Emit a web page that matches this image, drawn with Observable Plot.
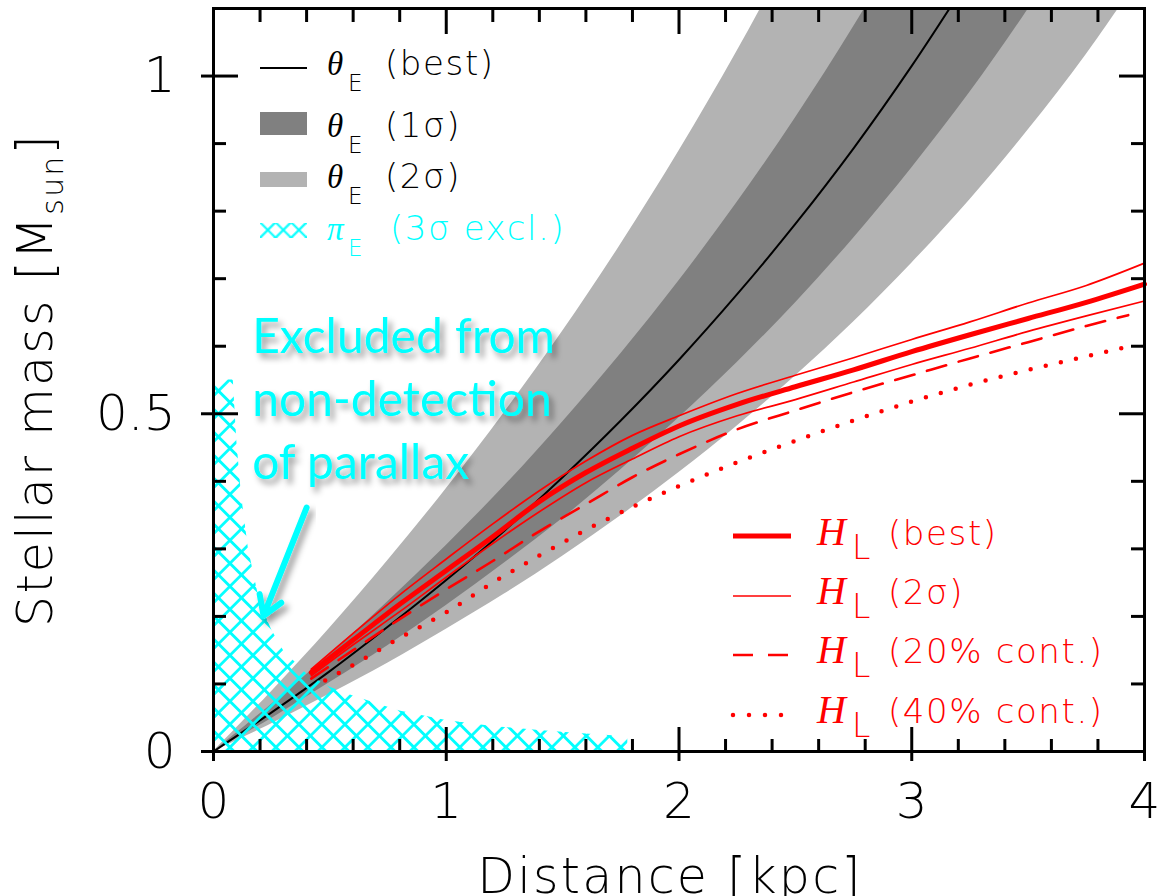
<!DOCTYPE html>
<html><head><meta charset="utf-8">
<script src="https://cdn.jsdelivr.net/npm/d3@7"></script>
<script src="https://cdn.jsdelivr.net/npm/@observablehq/plot@0.6"></script>
<style>body{margin:0;background:#fff} #chart svg{display:block}</style>
</head><body><div id="chart"></div>
<script>
// ---- data ----
const distGrid  = [0,0.25,0.5,0.75,1,1.25,1.5,1.75,2,2.25,2.5,2.75,3,3.25,3.5,3.75,4];
const theta2Hi  = [0,0.089,0.183,0.283,0.389,0.502,0.622,0.751,0.889,1.037,1.197,1.369,1.556,1.759,1.980,2.222,2.489];
const theta1Hi  = [0,0.070,0.144,0.222,0.305,0.393,0.488,0.589,0.697,0.813,0.938,1.073,1.220,1.379,1.552,1.742,1.951];
const theta1Lo  = [0,0.049,0.102,0.157,0.216,0.279,0.345,0.417,0.494,0.576,0.664,0.760,0.864,0.976,1.099,1.234,1.382];
const theta2Lo  = [0,0.041,0.085,0.131,0.181,0.233,0.289,0.349,0.413,0.482,0.556,0.636,0.723,0.817,0.920,1.032,1.156];
const bestD     = [0,0.25,0.5,0.75,1,1.25,1.5,1.75,2,2.25,2.5,2.75,3,3.25];
const thetaBest = [0,0.058,0.119,0.185,0.254,0.327,0.406,0.490,0.580,0.677,0.781,0.893,1.015,1.147];

const piD   = [0,0.085,0.1,0.12,0.15,0.2,0.25,0.3,0.4,0.5,0.6,0.7,0.8,1.0,1.2,1.4,1.6,1.78];
const piExM = [0.55,0.55,0.46,0.38,0.30,0.22,0.18,0.15,0.115,0.095,0.082,0.071,0.060,0.046,0.037,0.031,0.026,0.022];

const hlD    = [0.42,0.6,0.8,1.0,1.2,1.4,1.6,1.8,2.0,2.25,2.5,2.75,3.0,3.25,3.5,3.75,4.0];
const hlBest = [0.117,0.165,0.218,0.268,0.318,0.370,0.413,0.449,0.482,0.514,0.540,0.565,0.592,0.617,0.641,0.665,0.692];
const hlHi   = [0.122,0.175,0.232,0.285,0.337,0.386,0.430,0.468,0.497,0.530,0.557,0.583,0.610,0.636,0.664,0.690,0.723];
const hlLo   = [0.112,0.158,0.207,0.258,0.308,0.355,0.398,0.433,0.466,0.497,0.521,0.547,0.573,0.597,0.622,0.645,0.667];
const hl20D  = [0.42,0.6,0.8,1.0,1.2,1.4,1.6,1.8,2.0,2.25,2.5,2.75,3.0,3.25,3.5,3.75,3.93];
const hl20   = [0.108,0.150,0.196,0.240,0.282,0.326,0.366,0.406,0.440,0.477,0.505,0.532,0.557,0.582,0.606,0.630,0.646];
const hl40D  = [0.48,0.6,0.8,1.0,1.2,1.4,1.6,1.8,2.0,2.25,2.5,2.75,3.0,3.25,3.5,3.75,3.94];
const hl40   = [0.105,0.128,0.168,0.206,0.250,0.290,0.328,0.362,0.393,0.428,0.460,0.490,0.518,0.543,0.565,0.585,0.600];

const xMajor = [0,1,2,3,4];
const xTickLabels = ["0","1","2","3","4"];
const xMinor = [0.2,0.4,0.6,0.8,1.2,1.4,1.6,1.8,2.2,2.4,2.6,2.8,3.2,3.4,3.6,3.8];
const yMajor = [0,0.5,1];
const yTickLabels = ["0","0.5","1"];
const yMinor = [0.1,0.2,0.3,0.4,0.6,0.7,0.8,0.9];

const thetaLegend = ["(best)","(1σ)","(2σ)"];
const piLegend = "(3σ excl.)";
const hlLegend = ["(best)","(2σ)","(20% cont.)","(40% cont.)"];
const annotText = "Excluded from\nnon-detection\nof parallax";
const xTitle = "Distance [kpc]";
const yTitleMain = "Stellar mass [M", yTitleSub = "sun", yTitleEnd = "]";

// ---- tables ----
const bandTable = distGrid.map((d,i)=>({D:d, lo2:theta2Lo[i], hi2:theta2Hi[i], lo1:theta1Lo[i], hi1:theta1Hi[i]}));
const bestTable = bestD.map((d,i)=>({D:d, M:thetaBest[i]}));
const piTable = piD.map((d,i)=>({D:d, M:piExM[i]}));
const mk = (D, M) => D.map((d,i)=>({D:d, M:M[i]}));

const W=1157, H=896, mL=213, mR=13, mT=8, mB=145;
const RED = "#ff0000", CYAN = "#00ffff";
const TF = "DejaVu Sans";

const tk = {label:null, fill:null, strokeWidth:3};

const plot = Plot.plot({
  width:W, height:H, marginLeft:mL, marginRight:mR, marginTop:mT, marginBottom:mB,
  style:{background:"white", color:"black"},
  x:{domain:[0,4]}, y:{domain:[0,1.1]},
  marks:[
    Plot.areaY(bandTable,{x:"D", y1:"lo2", y2:"hi2", fill:"#b3b3b3", curve:"catmull-rom", clip:true}),
    Plot.areaY(bandTable,{x:"D", y1:"lo1", y2:"hi1", fill:"#808080", curve:"catmull-rom", clip:true}),
    Plot.line(bestTable,{x:"D", y:"M", stroke:"black", strokeWidth:2, curve:"catmull-rom", clip:true}),
    Plot.areaY(piTable,{x:"D", y:"M", fill:"url(#hatchPat)", curve:"linear"}),
    Plot.line(mk(hl40D,hl40),{x:"D", y:"M", stroke:RED, strokeWidth:4.5, strokeDasharray:"0,15.5", strokeLinecap:"round", curve:"monotone-x"}),
    Plot.line(mk(hl20D,hl20),{x:"D", y:"M", stroke:RED, strokeWidth:2.6, strokeDasharray:"20,13", curve:"monotone-x"}),
    Plot.line(mk(hlD,hlLo),{x:"D", y:"M", stroke:RED, strokeWidth:1.7, curve:"monotone-x"}),
    Plot.line(mk(hlD,hlHi),{x:"D", y:"M", stroke:RED, strokeWidth:1.7, curve:"monotone-x"}),
    Plot.line(mk(hlD,hlBest),{x:"D", y:"M", stroke:RED, strokeWidth:5, curve:"monotone-x"}),
    // ticks
    Plot.axisX(xMajor,{anchor:"bottom", tickSize:-24, ...tk}),
    Plot.axisX(xMajor,{anchor:"bottom", tickSize:10, ...tk}),
    Plot.axisX(xMinor,{anchor:"bottom", tickSize:-12, ...tk}),
    Plot.axisX(xMajor,{anchor:"top", tickSize:-25, ...tk}),
    Plot.axisX(xMinor,{anchor:"top", tickSize:-13, ...tk}),
    Plot.axisY(yMajor,{anchor:"left", tickSize:-25, ...tk}),
    Plot.axisY(yMajor,{anchor:"left", tickSize:12, ...tk}),
    Plot.axisY(yMinor,{anchor:"left", tickSize:-13, ...tk}),
    Plot.axisY(yMajor,{anchor:"right", tickSize:-26, ...tk}),
    Plot.axisY(yMinor,{anchor:"right", tickSize:-14, ...tk}),
    // labels
    Plot.axisX(xMajor,{anchor:"bottom", tickSize:0, tickPadding:31, label:null, fontSize:50, fontFamily:TF, fontWeight:200,
      tickFormat: d => xTickLabels[xMajor.indexOf(d)]}),
    Plot.axisY(yMajor,{anchor:"left", tickSize:0, tickPadding:38, label:null, fontSize:50, fontFamily:TF, fontWeight:200,
      tickFormat: d => yTickLabels[yMajor.indexOf(d)]}),
    Plot.frame({stroke:"black", strokeWidth:3}),
    Plot.text([annotText],{x:0.166, y:0.656, text:d=>d, fill:CYAN, fontSize:48, fontFamily:"Lato", textAnchor:"start", lineAnchor:"top", lineHeight:1.31}),
    Plot.arrow([0],{x1:0.40, y1:0.361, x2:0.215, y2:0.201, stroke:CYAN, strokeWidth:6, headLength:5.5, headAngle:64})
  ]
});

document.getElementById("chart").appendChild(plot);
const svg = d3.select(plot);
svg.insert("defs", ":first-child").html(
  `<pattern id="hatchPat" patternUnits="userSpaceOnUse" width="16.26" height="16.26" patternTransform="rotate(45)">
     <path d="M0,8.13H16.26M8.13,0V16.26" stroke="${CYAN}" stroke-width="2.7" fill="none"/></pattern>
   <pattern id="hatchSmall" patternUnits="userSpaceOnUse" width="11" height="11" patternTransform="translate(260,230) rotate(45)">
     <path d="M0,5.5H11M5.5,0V11" stroke="${CYAN}" stroke-width="2.2" fill="none"/></pattern>
   <filter id="shadow" x="-20%" y="-20%" width="140%" height="140%">
     <feDropShadow dx="4" dy="5" stdDeviation="3" flood-color="#000" flood-opacity="0.4"/></filter>`);
svg.selectAll('g[aria-label="text"], g[aria-label="arrow"]').attr("filter","url(#shadow)");

// ---- titles ----
svg.append("text").attr("x", 670).attr("y", 893).attr("text-anchor","middle")
  .attr("font-family",TF).attr("font-weight",200).attr("font-size",49).attr("letter-spacing",2.2).attr("fill","black").text(xTitle);
const yt = svg.append("text").attr("transform","translate(52,380) rotate(-90)").attr("text-anchor","middle")
  .attr("font-family",TF).attr("font-weight",200).attr("font-size",49).attr("letter-spacing",2.2).attr("fill","black");
yt.append("tspan").text(yTitleMain);
yt.append("tspan").attr("font-size",30).attr("dy",11).text(yTitleSub);
yt.append("tspan").attr("dy",-11).text(yTitleEnd);

// ---- legends ----
const lg = svg.append("g").attr("font-family",TF).attr("font-weight",200).attr("text-anchor","start");
lg.append("line").attr("x1",260).attr("x2",307).attr("y1",68).attr("y2",68).attr("stroke","black").attr("stroke-width",1.8);
lg.append("rect").attr("x",260).attr("y",112).attr("width",47).attr("height",23).attr("fill","#808080");
lg.append("rect").attr("x",260).attr("y",172).attr("width",47).attr("height",15).attr("fill","#b3b3b3");
lg.append("rect").attr("x",260).attr("y",223).attr("width",47).attr("height",15).attr("fill","url(#hatchSmall)");

function entry(sym, symSize, sub, subSize, subDy, label, color, xs, xSub, xl, y) {
  const t = lg.append("text").attr("y", y).attr("fill", color).attr("text-anchor","start");
  t.append("tspan").attr("x", xs).attr("font-family","Liberation Serif").attr("font-style","italic")
    .attr("font-weight",400).attr("font-size", symSize).text(sym);
  t.append("tspan").attr("x", xSub).attr("dy", subDy).attr("font-size", subSize).text(sub);
  t.append("tspan").attr("x", xl).attr("dy", -subDy).attr("font-size", 34).attr("letter-spacing", 1.6).text(label);
}
const thetaY = [75,137,188];
thetaLegend.forEach((lab,i)=>entry("θ", 33, "E", 23, 16, lab, "black", 327, 348, 385, thetaY[i]));
entry("π", 33, "E", 23, 16, piLegend, CYAN, 327, 348, 390, 240);

// red legend swatches
lg.append("line").attr("x1",733).attr("x2",791).attr("y1",536).attr("y2",536).attr("stroke",RED).attr("stroke-width",5);
lg.append("line").attr("x1",733).attr("x2",791).attr("y1",596).attr("y2",596).attr("stroke",RED).attr("stroke-width",1.7);
lg.append("line").attr("x1",733).attr("x2",791).attr("y1",655).attr("y2",655).attr("stroke",RED).attr("stroke-width",2.6).attr("stroke-dasharray","20,15");
lg.append("line").attr("x1",733).attr("x2",783).attr("y1",715).attr("y2",715).attr("stroke",RED).attr("stroke-width",4.5).attr("stroke-dasharray","0,16").attr("stroke-linecap","round");
const hlY = [545,604,663,723];
hlLegend.forEach((lab,i)=>entry("H", 40, "L", 33, 14, lab, RED, 817, 852, 888, hlY[i]));
</script></body></html>
